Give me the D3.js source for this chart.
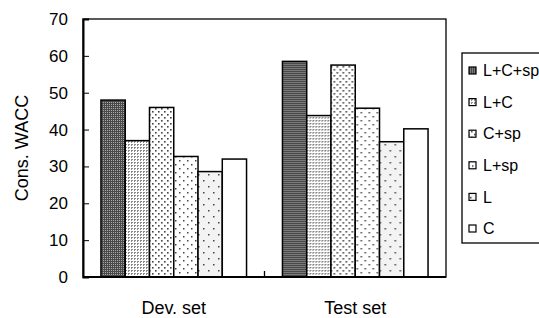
<!DOCTYPE html>
<html>
<head>
<meta charset="utf-8">
<script src="https://cdn.jsdelivr.net/npm/d3@7"></script>
<style>
body { margin: 0; background: #fff; }
svg { font-family: "Liberation Sans", Arial, sans-serif; }
</style>
</head>
<body>
<svg id="chart" width="539" height="318"></svg>
<script>
// data
var groups = ["Dev. set", "Test set"]
var series = ["L+C+sp", "L+C", "C+sp", "L+sp", "L", "C"]
var devValues = [48, 37, 46, 32.7, 28.6, 32]
var testValues = [58.5, 43.8, 57.5, 45.8, 36.7, 40.2]
var yTicks = [0, 10, 20, 30, 40, 50, 60, 70]

/* plot area (not "top": window.top is read only) */
var plotLeft = 83, plotRight = 446, plotTop = 19, plotBottom = 277

var svg = d3.select("#chart")
var defs = svg.append("defs")

/* fill patterns, one per series */
function dotPattern(id, w, h, bg, dots, r, col) {
    var p = defs.append("pattern")
        .attr("id", id)
        .attr("patternUnits", "userSpaceOnUse")
        .attr("width", w)
        .attr("height", h)
    p.append("rect").attr("width", w).attr("height", h).attr("fill", bg)
    dots.forEach(function(d) {
        p.append("rect")
            .attr("x", d[0]).attr("y", d[1])
            .attr("width", r).attr("height", r)
            .attr("fill", col)
    })
}
dotPattern("p0", 2, 2, "#4a4a4a", [[0, 0]], 1, "#a8a8a8")
dotPattern("p1", 3, 3, "#ffffff", [[0, 0], [1, 0], [0, 1]], 1, "#8a8a8a")
dotPattern("p2", 6, 6, "#ffffff", [[0, 0], [3, 3]], 1.6, "#444")
dotPattern("p3", 8, 8, "#ffffff", [[0, 0], [4, 4]], 1.5, "#444")
dotPattern("p4", 10, 12, "#f3f3f3", [[0, 0], [5, 6]], 1.5, "#444")
dotPattern("p5", 4, 4, "#ffffff", [], 0, "#fff")

var fills = series.map(function(s, i) { return "url(#p" + i + ")" })

var x0 = d3.scaleBand().domain(groups).range([plotLeft, plotRight]).paddingInner(0).paddingOuter(0)
var x1 = d3.scaleBand().domain(series).range([0, x0.bandwidth()]).paddingOuter(0.74)
var y = d3.scaleLinear().domain([0, 70]).range([plotBottom, plotTop])

/* plot frame */
svg.append("rect")
    .attr("x", plotLeft).attr("y", plotTop)
    .attr("width", plotRight - plotLeft).attr("height", plotBottom - plotTop)
    .attr("fill", "none").attr("stroke", "#000").attr("stroke-width", 1.3)

/* bars */
var rows = groups.map(function(g, gi) {
    var vals = gi == 0 ? devValues : testValues
    return series.map(function(s, si) { return {g: g, s: s, v: vals[si], i: si} })
})

svg.selectAll("g.grp")
    .data(rows)
    .enter()
    .append("g")
    .attr("class", "grp")
    .attr("transform", function(d, i) { return "translate(" + x0(groups[i]) + ",0)" })
    .selectAll("rect")
    .data(function(d) { return d })
    .enter()
    .append("rect")
    .attr("x", function(d) { return x1(d.s) })
    .attr("y", function(d) { return y(d.v) })
    .attr("width", x1.bandwidth())
    .attr("height", function(d) { return y(0) - y(d.v) })
    .attr("fill", function(d) { return fills[d.i] })
    .attr("stroke", "#000")
    .attr("stroke-width", 1.5)

/* y axis, ticks inside */
var yAxis = d3.axisRight(y).tickValues(yTicks).tickSize(6).tickFormat("")
svg.append("g")
    .attr("transform", "translate(" + plotLeft + ",0)")
    .call(yAxis)
    .call(function(g) {
        g.select(".domain").attr("stroke-width", 2)
    })
svg.append("g")
    .selectAll("text")
    .data(yTicks)
    .enter()
    .append("text")
    .attr("x", plotLeft - 15)
    .attr("y", function(d) { return y(d) })
    .attr("dy", "0.35em")
    .attr("text-anchor", "end")
    .attr("font-size", 17)
    .text(function(d) { return d })

/* x axis */
svg.append("line")
    .attr("x1", plotLeft).attr("x2", plotRight)
    .attr("y1", plotBottom).attr("y2", plotBottom)
    .attr("stroke", "#000").attr("stroke-width", 2)
svg.append("line")
    .attr("x1", x0(groups[1])).attr("x2", x0(groups[1]))
    .attr("y1", plotBottom).attr("y2", plotBottom - 6)
    .attr("stroke", "#000").attr("stroke-width", 1.3)

svg.selectAll("text.cat")
    .data(groups)
    .enter()
    .append("text")
    .attr("class", "cat")
    .attr("x", function(d) { return x0(d) + x0.bandwidth() / 2 })
    .attr("y", 314)
    .attr("text-anchor", "middle")
    .attr("font-size", 18)
    .text(function(d) { return d })

/* y title */
svg.append("text")
    .attr("transform", "translate(28," + ((plotTop + plotBottom) / 2) + ") rotate(-90)")
    .attr("text-anchor", "middle")
    .attr("font-size", 18)
    .text("Cons. WACC")

/* legend */
var legend = svg.append("g")
legend.append("rect")
    .attr("x", 462).attr("y", 53)
    .attr("width", 100).attr("height", 190)
    .attr("fill", "#fff").attr("stroke", "#000").attr("stroke-width", 1.3)

var item = legend.selectAll("g.item")
    .data(series)
    .enter()
    .append("g")
    .attr("class", "item")
    .attr("transform", function(d, i) { return "translate(0," + (70.5 + i * 31.6) + ")" })
item.append("rect")
    .attr("x", 469).attr("y", -3.5)
    .attr("width", 7).attr("height", 7)
    .attr("fill", function(d, i) { return fills[i] })
    .attr("stroke", "#000").attr("stroke-width", 1.2)
item.append("text")
    .attr("x", 483)
    .attr("dy", "0.36em")
    .attr("font-size", 16)
    .text(function(d) { return d })
</script>
</body>
</html>
